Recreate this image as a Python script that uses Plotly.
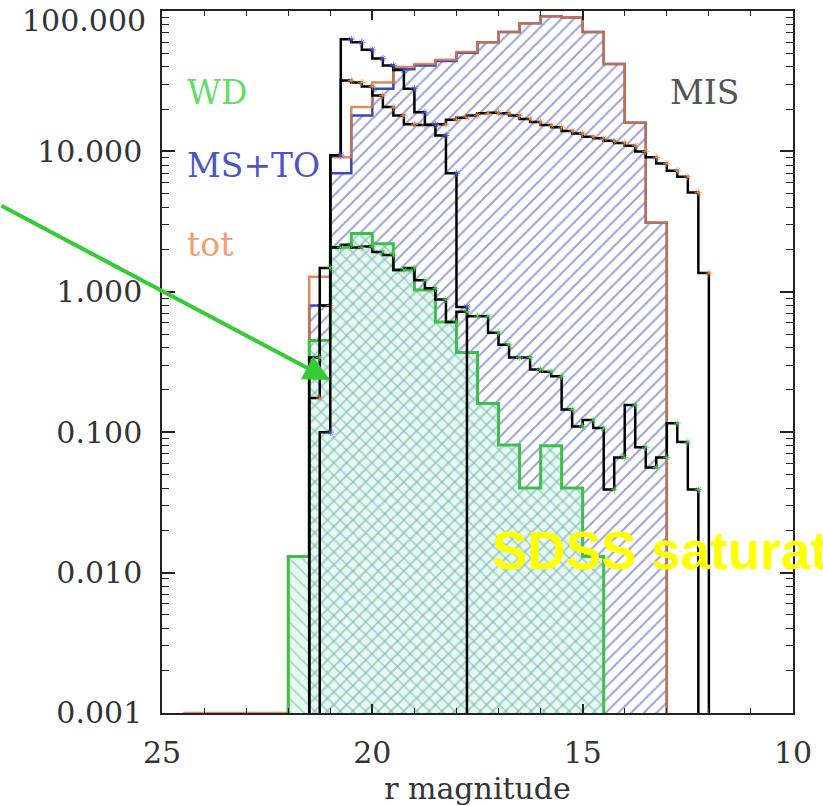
import numpy as np
import plotly.graph_objects as go

FLOOR = 0.001

# ---- 0.5-mag histograms ----
tot_edges = [24.5, 24.0, 23.5, 23.0, 22.5, 22.0, 21.5, 21.0, 20.5, 20.0, 19.5, 19.0, 18.5,
             18.0, 17.5, 17.0, 16.5, 16.0, 15.5, 15.0, 14.5, 14.0, 13.5, 13.0]
tot_vals = [0.001, 0.001, 0.001, 0.001, 0.001, 0.013, 1.28, 9.1, 20.7, 31, 40, 42, 45,
            51, 60, 71, 82, 92, 90, 71, 42, 16, 3.1]

ms_edges = [21.5, 21.0, 20.5, 20.0, 19.5, 19.0, 18.5, 18.0, 17.5, 17.0, 16.5, 16.0,
            15.5, 15.0, 14.5, 14.0, 13.5, 13.0]
ms_vals = [0.8, 7.0, 18, 28, 38.5, 41, 44, 50.5, 60, 71, 82, 92, 90, 71, 42, 16, 3.1]

wd_edges = [22.0, 21.5, 21.0, 20.5, 20.0, 19.5, 19.0, 18.5, 18.0, 17.5, 17.0, 16.5,
            16.0, 15.5, 15.0, 14.5]
wd_vals = [0.013, 0.45, 2.08, 2.6, 2.2, 1.43, 1.03, 0.61, 0.37, 0.16, 0.081, 0.040,
           0.080, 0.040, 0.013]

# ---- 0.25-mag MIS histograms ----
misA_start, misA_vals = 21.25, [0.1, 9.4, 63, 60, 53, 46, 41, 38, 28, 19, 15.5, 13, 7.0, 0.78]
misB_start, misB_vals = 21.5, [0.175, 0.8, 9.4,
                               32, 31, 29, 25, 20.7, 18, 15.6, 15.4, 15.4, 15.6,
                               16.8, 17.4, 18.0, 18.7, 18.9, 18.7, 18.0, 17.0, 16.2, 15.4,
                               14.9, 14.0, 13.4, 12.7, 12.4, 11.9, 11.5, 11.0, 10.0, 9.1,
                               8.2, 7.3, 6.6, 5.1, 1.36]
misC_start, misC_vals = 21.5, [0.34, 1.48, 2.07, 2.16, 2.07, 2.1, 1.92, 1.83, 1.43, 1.48,
                               1.21, 1.06, 0.88, 0.61, 0.72, 0.67, 0.67, 0.51, 0.42, 0.34,
                               0.34, 0.28, 0.27, 0.25, 0.145, 0.11, 0.122, 0.107, 0.039,
                               0.066, 0.156, 0.078, 0.056, 0.066, 0.116, 0.085, 0.039]
MIS_BIN = 0.25

y_tickvals = [100, 10, 1, 0.1, 0.01, 0.001]
y_ticktext = ["100.000", "10.000", "1.000", "0.100", "0.010", "0.001"]
x_tickvals = [25, 20, 15, 10]


def step_xy(edges, vals):
    edges = list(edges)
    vals = [max(v, FLOOR) for v in vals]
    xs = [edges[0]] + edges[:len(vals)] + [edges[len(vals)]]
    ys = [FLOOR] + vals + [FLOOR]
    return xs, ys


def mis_edges(start, n):
    return [round(start - i * MIS_BIN, 3) for i in range(n + 1)]


fig = go.Figure()

# MS+TO hatched fill
x, y = step_xy(ms_edges, ms_vals)
fig.add_trace(go.Scatter(x=x, y=y, mode="lines", line_shape="hv", fill="toself",
                         fillcolor="rgba(0,0,0,0)",
                         fillpattern=dict(shape="/", fgcolor="#3a46b0", bgcolor="rgba(255,255,255,0)",
                                          size=9, solidity=0.22),
                         line=dict(color="#3a48c0", width=2.5), hoverinfo="skip"))
# WD cross-hatched fill
x, y = step_xy(wd_edges, wd_vals)
fig.add_trace(go.Scatter(x=x, y=y, mode="lines", line_shape="hv", fill="toself",
                         fillcolor="rgba(0,0,0,0)",
                         fillpattern=dict(shape="\\", fgcolor="#55c878",
                                          bgcolor="rgba(200,242,232,0.45)", size=9, solidity=0.2),
                         line=dict(color="rgba(0,0,0,0)", width=0), hoverinfo="skip"))
# tot outline
x, y = step_xy(tot_edges, tot_vals)
fig.add_trace(go.Scatter(x=x, y=y, mode="lines", line_shape="hv",
                         line=dict(color="rgba(215,120,65,0.85)", width=2.5), hoverinfo="skip"))
# WD outline
x, y = step_xy(wd_edges, wd_vals)
fig.add_trace(go.Scatter(x=x, y=y, mode="lines", line_shape="hv",
                         line=dict(color="#3cc04a", width=3), hoverinfo="skip"))

# MIS curves (black) with faint asterisks
for start, vals, mcol in [(misB_start, misB_vals, "rgba(240,150,80,0.75)"),
                          (misA_start, misA_vals, "rgba(80,90,220,0.75)"),
                          (misC_start, misC_vals, "rgba(90,210,90,0.75)")]:
    e = mis_edges(start, len(vals))
    x, y = step_xy(e, vals)
    fig.add_trace(go.Scatter(x=x, y=y, mode="lines", line_shape="hv",
                             line=dict(color="black", width=2.5), hoverinfo="skip"))
    fig.add_trace(go.Scatter(x=e[1:len(vals) + 1], y=vals, mode="markers",
                             marker=dict(symbol="asterisk-open", size=6, color=mcol,
                                         line=dict(color=mcol, width=1)),
                             hoverinfo="skip"))

minor_vals = [m * 10.0 ** d for d in range(-3, 2) for m in range(2, 10)]

fig.update_layout(
    width=823, height=806,
    margin=dict(l=162, r=30, t=11, b=93, autoexpand=False),
    paper_bgcolor="white", plot_bgcolor="white",
    showlegend=False,
    font=dict(family="DejaVu Serif", size=30, color="#333333"),
)
fig.update_xaxes(range=[25, 10], tickvals=x_tickvals, ticks="inside", ticklen=9,
                 tickwidth=1.5, tickcolor="#222", showline=True, linecolor="#222",
                 linewidth=1.5, mirror="ticks", showgrid=False, zeroline=False,
                 ticklabelstandoff=12, automargin=False,
                 minor=dict(tickvals=list(range(11, 25)), ticks="inside", ticklen=5,
                            tickcolor="#222", tickwidth=1.2),
                 title=dict(text="r magnitude", standoff=10,
                            font=dict(family="DejaVu Serif", size=30, color="#333")))
fig.update_yaxes(type="log", range=[-3.0005, 2.0005], tickvals=y_tickvals,
                 ticktext=[""] + y_ticktext[1:],
                 ticks="inside", ticklen=13, tickwidth=1.5, tickcolor="#222",
                 showline=True, linecolor="#222", linewidth=1.5, mirror="ticks",
                 showgrid=False, zeroline=False, ticklabelstandoff=12,
                 automargin=False,
                 minor=dict(tickvals=minor_vals, ticks="inside", ticklen=7,
                            tickcolor="#222", tickwidth=1.2))

# labels
def px_to_paper(px, py):
    return (px - 162) / 631.0, (713 - py) / 702.0

# top y tick label, nudged down so it stays inside the page (as in the original)
xp, yp = px_to_paper(148, 21)
fig.add_annotation(x=xp, y=yp, xref="paper", yref="paper", text=y_ticktext[0],
                   showarrow=False, xanchor="right", yanchor="middle",
                   font=dict(family="DejaVu Serif", size=30, color="#333333"))

for txt, (px, py), col in [("WD", (185, 93), "#66dd66"),
                           ("MS+TO", (185, 166), "#4a55c8"),
                           ("tot", (185, 244), "#f0a070"),
                           ("MIS", (668, 93), "#555555")]:
    xp, yp = px_to_paper(px, py)
    fig.add_annotation(x=xp, y=yp, xref="paper", yref="paper", text=txt, showarrow=False,
                       xanchor="left", yanchor="middle",
                       font=dict(family="DejaVu Serif", size=33, color=col))

xp, yp = px_to_paper(490, 550)
fig.add_annotation(x=xp, y=yp, xref="paper", yref="paper", text="<b>SDSS saturation</b>",
                   showarrow=False, xanchor="left", yanchor="middle",
                   font=dict(family="Liberation Sans", size=53, color="#ffff00"))

# green arrow
hx, hy = px_to_paper(330, 380)
fig.add_annotation(x=hx, y=hy, xref="paper", yref="paper", text="", showarrow=True,
                   ax=-335, ay=-175, arrowcolor="#33cc33", arrowwidth=4, arrowhead=2,
                   arrowsize=1.3)

fig.write_html("out.html")
